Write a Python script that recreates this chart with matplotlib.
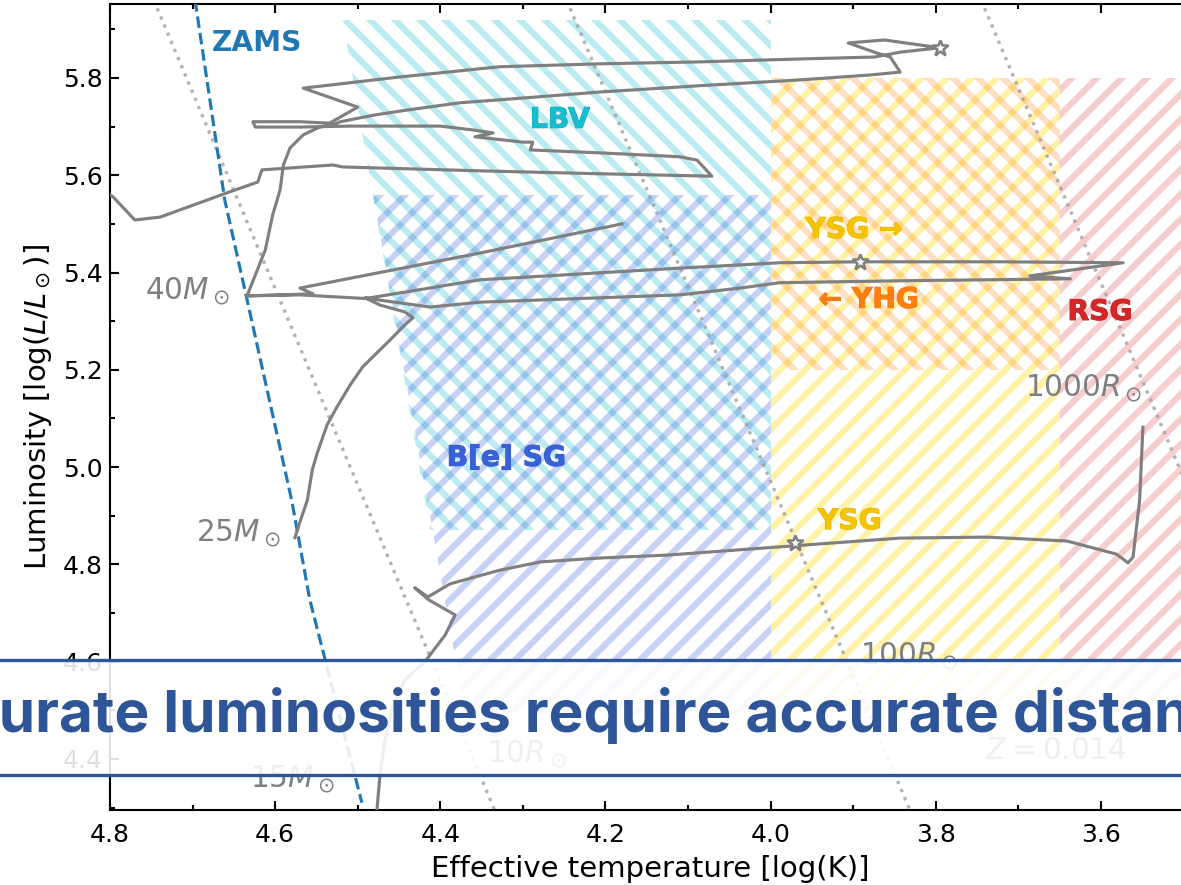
import numpy as np
import matplotlib
matplotlib.use('Agg')
import matplotlib.pyplot as plt
import matplotlib.patheffects as pe
from matplotlib.colors import to_rgba
from matplotlib.patches import Rectangle
from matplotlib.lines import Line2D
from matplotlib.ticker import MultipleLocator

# Evolutionary tracks (log Teff, log L)
track_40_logT = [4.634, 4.624, 4.612, 4.603, 4.594, 4.590, 4.582, 4.566, 4.546, 4.528,
                 4.521, 4.479, 4.440, 4.376, 4.328, 4.207, 4.086, 3.964, 3.880, 3.843,
                 3.855, 3.871, 3.906, 3.862, 3.795, 3.843, 3.874,
                 3.964, 4.086, 4.207, 4.328, 4.449, 4.566,
                 4.500, 4.534, 4.570, 4.627,
                 4.624, 4.570, 4.509, 4.400, 4.360, 4.336, 4.358, 4.300, 4.288, 4.291,
                 4.207, 4.110, 4.089, 4.071,
                 4.207, 4.352, 4.518, 4.530, 4.616, 4.621, 4.658, 4.739, 4.770, 4.796, 4.824]
track_40_logL = [5.352, 5.395, 5.446, 5.518, 5.570, 5.621, 5.656, 5.683, 5.699, 5.705,
                 5.710, 5.724, 5.734, 5.749, 5.755, 5.771, 5.784, 5.796, 5.806, 5.812,
                 5.843, 5.851, 5.872, 5.878, 5.862, 5.853, 5.843,
                 5.839, 5.833, 5.829, 5.823, 5.802, 5.779,
                 5.740, 5.707, 5.710, 5.710,
                 5.699, 5.699, 5.701, 5.701, 5.693, 5.687, 5.679, 5.668, 5.668, 5.652,
                 5.646, 5.638, 5.631, 5.598,
                 5.603, 5.609, 5.617, 5.621, 5.611, 5.586, 5.564, 5.514, 5.508, 5.555, 5.590]

track_25_logT = [4.576, 4.570, 4.561, 4.555, 4.549, 4.537, 4.525, 4.509, 4.494, 4.461,
                 4.443, 4.433, 4.443, 4.473, 4.491,
                 4.485, 4.352, 4.110, 3.989, 3.892, 3.722, 3.573, 3.686, 3.637,
                 3.843, 3.989, 4.037, 4.110, 4.352, 4.412, 4.485, 4.570, 4.634,
                 4.554, 4.570, 4.352, 4.180]
track_25_logL = [4.855, 4.887, 4.932, 4.994, 5.029, 5.087, 5.124, 5.169, 5.206, 5.261,
                 5.292, 5.307, 5.319, 5.333, 5.348,
                 5.348, 5.385, 5.409, 5.420, 5.422, 5.422, 5.420, 5.393, 5.387,
                 5.383, 5.379, 5.368, 5.354, 5.339, 5.329, 5.346, 5.354, 5.352,
                 5.356, 5.368, 5.440, 5.500]

track_15_logT = [4.478, 4.473, 4.467, 4.459, 4.443, 4.419, 4.394, 4.382, 4.414, 4.431,
                 4.415, 4.388, 4.328, 4.279, 4.207, 4.125, 3.973, 3.843, 3.738, 3.641,
                 3.581, 3.567, 3.561, 3.553, 3.549]
track_15_logL = [4.270, 4.367, 4.439, 4.501, 4.562, 4.599, 4.655, 4.696, 4.727, 4.752,
                 4.733, 4.760, 4.788, 4.805, 4.813, 4.819, 4.838, 4.854, 4.856, 4.848,
                 4.821, 4.803, 4.815, 4.932, 5.082]

# Stars marked on the tracks
star_logT = [3.795, 3.892, 3.970]
star_logL = [5.862, 5.422, 4.844]

# Zero-age main sequence
zams_logT = [4.697, 4.661, 4.634, 4.580, 4.558, 4.495]
zams_logL = [5.960, 5.549, 5.344, 4.932, 4.727, 4.310]

# Constant radius lines: end points (top, bottom)
radius_logT = [(4.747, 4.333), (4.247, 3.830), (3.745, 3.328)]
radius_logL = [(5.960, 4.290), (5.960, 4.290), (5.960, 4.290)]

# Region boundaries
lbv_logT = [4.518, 4.000, 4.000, 4.412]
lbv_logL = [5.919, 5.919, 4.871, 4.871]
bsg_logT = [4.481, 4.000, 4.000, 4.370]
bsg_logL = [5.559, 5.559, 4.494, 4.494]
ysg_logT = [4.000, 3.650, 3.650, 4.000]
ysg_logL = [5.800, 5.800, 4.494, 4.494]
yhg_logT = [4.000, 3.650, 3.650, 4.000]
yhg_logL = [5.800, 5.800, 5.200, 5.200]
rsg_logT = [3.650, 3.300, 3.300, 3.650]
rsg_logL = [5.800, 5.800, 4.494, 4.494]

plt.rcParams['hatch.linewidth'] = 3.0
plt.rcParams['font.family'] = 'DejaVu Sans'

W, H, DPI = 1181, 885, 150
fig = plt.figure(figsize=(W / DPI, H / DPI), dpi=DPI)
# axes run a little past the right edge of the picture
ax = fig.add_axes([110 / W, 75 / H, 1080 / W, 806 / H])

# hatched regions
def hatch_region(xs, ys, color, alpha, hatch):
    ax.fill(xs, ys, facecolor='none', edgecolor=to_rgba(color, alpha),
            hatch=hatch, linewidth=0, zorder=1)

hatch_region(lbv_logT, lbv_logL, '#17becf', 0.30, '\\\\')
hatch_region(bsg_logT, bsg_logL, '#4169e1', 0.30, '//')
hatch_region(ysg_logT, ysg_logL, '#ffd700', 0.35, '//')
hatch_region(yhg_logT, yhg_logL, '#ff7f0e', 0.25, '\\\\')
hatch_region(rsg_logT, rsg_logL, '#d62728', 0.23, '//')

# radius lines
for xs, ys in zip(radius_logT, radius_logL):
    ax.plot(xs, ys, ':', color='#a0a0a0', lw=1.6, alpha=0.8, zorder=2)

# ZAMS
ax.plot(zams_logT, zams_logL, '--', color='#1f77b4', lw=1.5, zorder=3)

# tracks
for xs, ys in [(track_40_logT, track_40_logL), (track_25_logT, track_25_logL),
               (track_15_logT, track_15_logL)]:
    ax.plot(xs, ys, '-', color='#7f7f7f', lw=1.5, zorder=3)

ax.plot(star_logT, star_logL, '*', ms=8, mfc='white', mec='#7f7f7f', mew=1.2,
        ls='none', zorder=4)

# region labels
def region_label(x, y, s, color, edge):
    ax.text(x, y, s, color=color, fontsize=13.5, fontweight='bold', ha='center',
            va='center', zorder=5,
            path_effects=[pe.withStroke(linewidth=0.5, foreground=edge)])

ax.text(4.677, 5.872, 'ZAMS', color='#1f77b4', fontsize=13.5, fontweight='bold',
        ha='left', va='center', zorder=5)
region_label(4.255, 5.714, 'LBV', '#17becf', '#14a8b8')
region_label(4.320, 5.019, 'B[e] SG', '#3a62d8', '#3458c4')
region_label(3.899, 5.488, 'YSG \u2192', '#f5c400', '#e0b000')
region_label(3.881, 5.344, '\u2190 YHG', '#ff7f0e', '#e86f05')
region_label(3.601, 5.319, 'RSG', '#d62728', '#c01f20')
region_label(3.904, 4.889, 'YSG', '#f5c400', '#e0b000')

# mass and radius labels
gray = '#7f7f7f'
lab = dict(color=gray, fontsize=14.2, va='center', zorder=5)
ax.text(4.655, 5.362, r'$40M_\odot$', ha='right', **lab)
ax.text(4.594, 4.863, r'$25M_\odot$', ha='right', **lab)
ax.text(4.528, 4.359, r'$15M_\odot$', ha='right', **lab)
ax.text(4.343, 4.410, r'$10R_\odot$', ha='left', **lab)
ax.text(3.892, 4.612, r'$100R_\odot$', ha='left', **lab)
ax.text(3.692, 5.161, r'$1000R_\odot$', ha='left', **lab)
ax.text(3.740, 4.418, r'$Z = 0.014$', ha='left', **lab)

ax.set_xlim(4.8, 3.492)
ax.set_ylim(4.295, 5.952)
ax.xaxis.set_major_locator(MultipleLocator(0.2))
ax.xaxis.set_minor_locator(MultipleLocator(0.1))
ax.yaxis.set_major_locator(MultipleLocator(0.2))
ax.yaxis.set_minor_locator(MultipleLocator(0.1))
ax.tick_params(which='both', direction='in', top=True, right=True, width=1)
ax.tick_params(which='major', length=4.5, labelsize=12)
ax.tick_params(axis='x', which='major', pad=6)
ax.tick_params(which='minor', length=2.5)
for sp in ax.spines.values():
    sp.set_linewidth(1.0)
ax.set_xlabel('Effective temperature [log(K)]', fontsize=14)
ax.set_ylabel(r'Luminosity [$\log(L/L_\odot)$]', fontsize=14)

# title banner across the plot
fig.patches.append(Rectangle((0, 110 / H), 1, 115 / H, transform=fig.transFigure,
                             facecolor='white', alpha=0.88, edgecolor='none', zorder=10))
for yb in [110 / H, 225 / H]:
    fig.add_artist(Line2D([0, 1], [yb, yb], transform=fig.transFigure,
                          color='#2e5597', lw=1.6, zorder=11))
fig.text(0.499, 170 / H, 'Accurate luminosities require accurate distances',
         family=['Inter', 'DejaVu Sans'], fontweight='bold', fontsize=28.1,
         color='#2e5597', ha='center', va='center', zorder=12)

fig.savefig('out.png', dpi=DPI)
